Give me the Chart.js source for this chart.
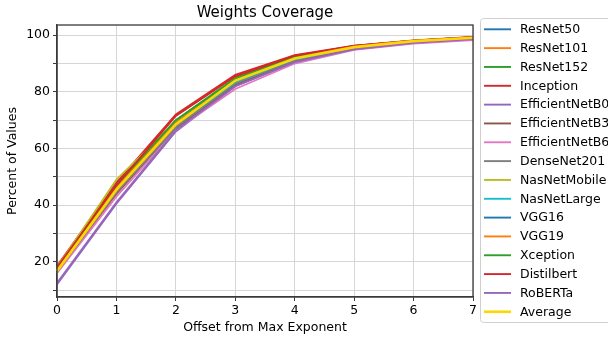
<!DOCTYPE html>
<html>
<head>
<meta charset="utf-8">
<script src="https://cdn.jsdelivr.net/npm/chart.js@4/dist/chart.umd.min.js"></script>
<style>
  html, body { margin: 0; padding: 0; background: #fff; overflow: hidden; }
  #wrap { width: 608px; height: 337px; position: relative; }
</style>
</head>
<body>
<div id="wrap"><canvas id="c" width="608" height="337"></canvas></div>
<script>
const categories = [0, 1, 2, 3, 4, 5, 6, 7];
const yTicks = [10, 20, 30, 40, 50, 60, 70, 80, 90, 100];

const resnet50       = [17.0, 45.0, 68.0, 83.5, 91.5, 95.8, 97.8, 99.0];
const resnet101      = [17.5, 46.0, 69.0, 84.5, 92.0, 96.0, 98.0, 99.2];
const resnet152      = [18.0, 47.5, 70.0, 85.0, 92.5, 96.2, 98.1, 99.3];
const inception      = [18.5, 48.0, 72.0, 86.0, 93.0, 96.3, 98.2, 99.4];
const efficientB0    = [12.0, 40.5, 66.0, 82.0, 90.5, 95.0, 97.3, 98.5];
const efficientB3    = [16.5, 44.0, 67.0, 82.5, 91.0, 95.3, 97.5, 98.7];
const efficientB6    = [16.0, 43.0, 66.5, 81.0, 90.0, 94.8, 97.0, 98.3];
const densenet201    = [16.5, 44.5, 67.5, 83.0, 91.2, 95.5, 97.6, 98.9];
const nasnetMobile   = [18.0, 49.0, 69.5, 84.5, 92.0, 96.0, 98.0, 99.2];
const nasnetLarge    = [17.0, 46.0, 68.5, 83.5, 91.5, 95.8, 97.8, 99.1];
const vgg16          = [17.5, 46.5, 69.0, 84.0, 92.0, 96.0, 98.0, 99.2];
const vgg19          = [17.5, 46.5, 69.0, 84.0, 92.0, 96.0, 98.0, 99.2];
const xception       = [17.5, 47.0, 70.0, 84.5, 92.3, 96.0, 98.0, 99.2];
const distilbert     = [18.0, 47.0, 71.5, 85.5, 92.8, 96.2, 98.1, 99.3];
const roberta        = [12.5, 41.0, 66.5, 82.0, 90.5, 95.0, 97.3, 98.6];
const average        = [16.8, 45.5, 68.5, 84.0, 91.8, 95.8, 97.9, 99.1];

const seriesNames = ['ResNet50','ResNet101','ResNet152','Inception','EfficientNetB0','EfficientNetB3','EfficientNetB6','DenseNet201','NasNetMobile','NasNetLarge','VGG16','VGG19','Xception','Distilbert','RoBERTa','Average'];
const seriesValues = [resnet50,resnet101,resnet152,inception,efficientB0,efficientB3,efficientB6,densenet201,nasnetMobile,nasnetLarge,vgg16,vgg19,xception,distilbert,roberta,average];
const seriesColors = ['#1f77b4','#ff7f0e','#2ca02c','#d62728','#9467bd','#8c564b','#e377c2','#7f7f7f','#bcbd22','#17becf','#1f77b4','#ff7f0e','#2ca02c','#d62728','#9467bd','#ffd700'];

const FONT = "'DejaVu Sans', sans-serif";
const FS = 12.5;
const N = seriesNames.length;

const datasets = seriesNames.map((name, i) => ({
  label: name,
  data: seriesValues[i],
  borderColor: seriesColors[i],
  backgroundColor: seriesColors[i],
  borderWidth: name === 'Average' ? 2.6 : 1.8,
  pointRadius: 0,
  pointHoverRadius: 0,
  tension: 0,
  fill: false,
  order: N - i
}));

const framePlugin = {
  id: 'frame',
  afterDraw(chart) {
    const ctx = chart.ctx;
    const a = chart.chartArea;
    ctx.save();
    ctx.strokeStyle = '#3a3a3a';
    ctx.lineWidth = 1.3;
    ctx.strokeRect(a.left, a.top, a.right - a.left, a.bottom - a.top);
    ctx.fillStyle = '#000';
    ctx.font = '15px ' + FONT;
    ctx.textAlign = 'center';
    ctx.textBaseline = 'middle';
    ctx.fillText('Weights Coverage', (a.left + a.right) / 2, 13);
    const lx = 480.5, ly = 18.5, lw = 140, lh = 304;
    const r = 3;
    ctx.beginPath();
    ctx.moveTo(lx + r, ly);
    ctx.lineTo(lx + lw - r, ly);
    ctx.arcTo(lx + lw, ly, lx + lw, ly + r, r);
    ctx.lineTo(lx + lw, ly + lh - r);
    ctx.arcTo(lx + lw, ly + lh, lx + lw - r, ly + lh, r);
    ctx.lineTo(lx + r, ly + lh);
    ctx.arcTo(lx, ly + lh, lx, ly + lh - r, r);
    ctx.lineTo(lx, ly + r);
    ctx.arcTo(lx, ly, lx + r, ly, r);
    ctx.closePath();
    ctx.fillStyle = 'rgba(255,255,255,0.85)';
    ctx.fill();
    ctx.strokeStyle = '#d0d0d0';
    ctx.lineWidth = 1;
    ctx.stroke();
    ctx.font = FS + 'px ' + FONT;
    ctx.textAlign = 'left';
    ctx.textBaseline = 'middle';
    chart.data.datasets.forEach((ds, i) => {
      const y = 29.3 + i * 18.83;
      ctx.strokeStyle = ds.borderColor;
      ctx.lineWidth = ds.label === 'Average' ? 2.6 : 1.9;
      ctx.beginPath();
      ctx.moveTo(484, y);
      ctx.lineTo(511, y);
      ctx.stroke();
      ctx.fillStyle = '#000';
      ctx.fillText(ds.label, 520, y + 0.5);
    });
    ctx.restore();
  }
};

new Chart(document.getElementById('c'), {
  type: 'line',
  data: { labels: categories, datasets },
  plugins: [framePlugin],
  options: {
    responsive: false,
    animation: false,
    events: [],
    layout: { padding: { top: 25, right: 135, left: 0, bottom: 0 } },
    plugins: {
      legend: { display: false },
      title: { display: false },
      tooltip: { enabled: false }
    },
    scales: {
      x: {
        type: 'category',
        offset: false,
        grid: { color: '#d6d6d6', lineWidth: 1, tickLength: 4, tickColor: '#3a3a3a', drawTicks: true },
        border: { color: '#3a3a3a', width: 1.3 },
        ticks: { color: '#000', font: { family: FONT, size: FS }, padding: 2, maxRotation: 0, autoSkip: false },
        title: { display: true, text: 'Offset from Max Exponent', color: '#000', font: { family: FONT, size: FS }, padding: { top: 0, bottom: 2 } },
        afterFit(s) { s.height = 40; }
      },
      y: {
        type: 'linear',
        min: 7.6,
        max: 103.6,
        afterBuildTicks(s) { s.ticks = yTicks.map(v => ({ value: v })); },
        grid: { color: '#d6d6d6', lineWidth: 1, tickLength: 4, tickColor: '#3a3a3a', drawTicks: true },
        border: { color: '#3a3a3a', width: 1.3 },
        ticks: { color: '#000', font: { family: FONT, size: FS }, padding: 3,
          callback: v => (v % 20 === 0 ? String(v) : '') },
        title: { display: true, text: 'Percent of Values', color: '#000', font: { family: FONT, size: FS }, padding: { top: 5, bottom: 0 } },
        afterFit(s) { s.width = 57; }
      }
    }
  }
});
</script>
</body>
</html>
